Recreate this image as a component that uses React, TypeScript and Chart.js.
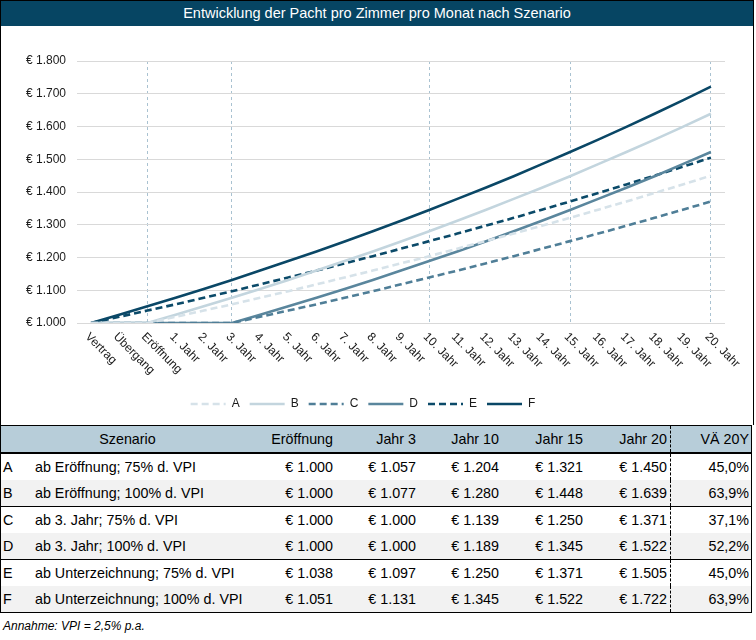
import React, { useEffect, useRef } from "react";
import { Chart, registerables } from "chart.js";

Chart.register(...registerables);

// ---------- chart data ----------
const categories = [
  "Vertrag", "Übergang", "Eröffnung",
  "1. Jahr", "2. Jahr", "3. Jahr", "4. Jahr", "5. Jahr", "6. Jahr", "7. Jahr",
  "8. Jahr", "9. Jahr", "10. Jahr", "11. Jahr", "12. Jahr", "13. Jahr", "14. Jahr",
  "15. Jahr", "16. Jahr", "17. Jahr", "18. Jahr", "19. Jahr", "20. Jahr",
];
const markedCategories = ["Eröffnung", "3. Jahr", "10. Jahr", "15. Jahr", "20. Jahr"];

const seriesLabels = ["A", "B", "C", "D", "E", "F"];
const seriesA = [1000, 1000, 1000, 1019, 1038, 1057, 1077, 1097, 1118, 1139, 1160, 1182, 1204, 1227, 1250, 1273, 1297, 1321, 1346, 1371, 1397, 1423, 1450];
const seriesB = [1000, 1000, 1000, 1025, 1051, 1077, 1104, 1131, 1160, 1189, 1218, 1249, 1280, 1312, 1345, 1379, 1413, 1448, 1485, 1522, 1560, 1599, 1639];
const seriesC = [1000, 1000, 1000, 1000, 1000, 1000, 1019, 1038, 1057, 1077, 1097, 1118, 1139, 1160, 1182, 1204, 1227, 1250, 1273, 1297, 1321, 1346, 1371];
const seriesD = [1000, 1000, 1000, 1000, 1000, 1000, 1025, 1051, 1077, 1104, 1131, 1160, 1189, 1218, 1249, 1280, 1312, 1345, 1379, 1413, 1448, 1485, 1522];
const seriesE = [1000, 1019, 1038, 1057, 1077, 1097, 1118, 1139, 1160, 1182, 1204, 1227, 1250, 1273, 1297, 1321, 1346, 1371, 1397, 1423, 1450, 1477, 1505];
const seriesF = [1000, 1025, 1051, 1077, 1104, 1131, 1160, 1189, 1218, 1249, 1280, 1312, 1345, 1379, 1413, 1448, 1485, 1522, 1560, 1599, 1639, 1680, 1722];

const yMin = 1000;
const yMax = 1800;
const yStep = 100;

// ---------- table data ----------
const scenarioNames = [
  "ab Eröffnung; 75% d. VPI",
  "ab Eröffnung; 100% d. VPI",
  "ab 3. Jahr; 75% d. VPI",
  "ab 3. Jahr; 100% d. VPI",
  "ab Unterzeichnung; 75% d. VPI",
  "ab Unterzeichnung; 100% d. VPI",
];
const tableColumns = ["Eröffnung", "Jahr 3", "Jahr 10", "Jahr 15", "Jahr 20"];
const tableA = [1000, 1057, 1204, 1321, 1450];
const tableB = [1000, 1077, 1280, 1448, 1639];
const tableC = [1000, 1000, 1139, 1250, 1371];
const tableD = [1000, 1000, 1189, 1345, 1522];
const tableE = [1038, 1097, 1250, 1371, 1505];
const tableF = [1051, 1131, 1345, 1522, 1722];
const change20Y = [45.0, 63.9, 37.1, 52.2, 45.0, 63.9];

const FONT = '"Liberation Sans", Arial, sans-serif';

function euro(v: number): string {
  const s = Math.round(v).toString();
  return "€ " + s.replace(/\B(?=(\d{3})+(?!\d))/g, ".");
}
function pct(v: number): string {
  return v.toFixed(1).replace(".", ",") + "%";
}

const rotatedLabels = {
  id: "rotatedLabels",
  afterDraw(chart: any) {
    const { ctx, chartArea } = chart;
    const x = chart.scales.x;
    ctx.save();
    ctx.font = `12px ${FONT}`;
    ctx.fillStyle = "#1a1a1a";
    ctx.textAlign = "left";
    ctx.textBaseline = "middle";
    categories.forEach((label, i) => {
      const px = x.getPixelForValue(i);
      ctx.save();
      ctx.translate(px - 4, chartArea.bottom + 12);
      ctx.rotate(Math.PI / 4);
      ctx.fillText(label, 0, 0);
      ctx.restore();
    });
    ctx.restore();
  },
};

function LineChart() {
  const ref = useRef<HTMLCanvasElement | null>(null);
  useEffect(() => {
    if (!ref.current) return;
    const mk = (label: string, data: number[], color: string, dash: number[]) => ({
      label,
      data,
      borderColor: color,
      backgroundColor: color,
      borderWidth: 2.6,
      borderDash: dash,
      pointRadius: 0,
      tension: 0,
      fill: false,
    });
    const chart = new Chart(ref.current, {
      type: "line",
      data: {
        labels: categories,
        datasets: [
          mk(seriesLabels[0], seriesA, "#d6e2e9", [7, 4]),
          mk(seriesLabels[1], seriesB, "#c3d5de", []),
          mk(seriesLabels[2], seriesC, "#4f7e97", [7, 4]),
          mk(seriesLabels[3], seriesD, "#5a869d", []),
          mk(seriesLabels[4], seriesE, "#0b4a69", [7, 4]),
          mk(seriesLabels[5], seriesF, "#0a4766", []),
        ],
      },
      options: {
        animation: false,
        responsive: false,
        maintainAspectRatio: false,
        devicePixelRatio: 1,
        layout: { padding: { top: 35, right: 28, bottom: 5, left: 0 } },
        plugins: {
          title: { display: false },
          tooltip: { enabled: false },
          legend: {
            display: true,
            position: "bottom",
            labels: {
              usePointStyle: true,
              pointStyle: "line",
              pointStyleWidth: 35,
              boxWidth: 35,
              boxHeight: 12,
              padding: 10,
              color: "#1a1a1a",
              font: { family: FONT, size: 12 },
              generateLabels: (c: any) => {
                const items = (Chart.defaults.plugins.legend.labels as any).generateLabels(c);
                items.forEach((it: any) => {
                  const ds: any = c.data.datasets[it.datasetIndex];
                  it.lineDash = ds.borderDash;
                  it.strokeStyle = ds.borderColor;
                  it.fillStyle = ds.borderColor;
                  it.lineWidth = ds.borderWidth;
                  it.pointStyle = "line";
                });
                return items;
              },
            },
          },
        },
        scales: {
          x: {
            type: "category",
            offset: true,
            afterFit: (s: any) => {
              s.height = 65;
            },
            ticks: { display: false },
            border: { display: false, dash: [3, 3] },
            grid: {
              drawTicks: false,
              color: (c: any) =>
                c.tick && markedCategories.includes(categories[c.index]) ? "#a9c2d1" : "rgba(0,0,0,0)",
              lineWidth: 1,
            },
          },
          y: {
            min: yMin,
            max: yMax,
            afterFit: (s: any) => {
              s.width = 76;
            },
            ticks: {
              stepSize: yStep,
              padding: 11,
              color: "#1a1a1a",
              font: { family: FONT, size: 12 },
              callback: (v: any) => euro(Number(v)),
            },
            border: { display: false },
            grid: { color: "#d9d9d9", drawTicks: false, lineWidth: 1 },
          },
        },
      } as any,
      plugins: [rotatedLabels],
    });
    return () => chart.destroy();
  }, []);
  return <canvas ref={ref} width={752} height={399} style={{ display: "block", width: 752, height: 399 }} />;
}

const tableRows = [tableA, tableB, tableC, tableD, tableE, tableF];
const colWidths = [31, 222, 83, 83, 83, 84, 84, 80];

export default function App() {
  const cell = (w: number, extra: React.CSSProperties = {}): React.CSSProperties => ({
    width: w,
    boxSizing: "border-box",
    flex: "none",
    whiteSpace: "nowrap",
    overflow: "hidden",
    ...extra,
  });
  const dotted = "1px dashed #000";
  const rowHeights = [26, 26, 26, 26, 26, 26];
  return (
    <div style={{ position: "absolute", left: 0, top: 0, width: 756, fontFamily: FONT, color: "#000" }}>
      <div style={{ width: 754, boxSizing: "border-box", borderTop: "1px solid #000", borderLeft: "1px solid #000", borderRight: "1px solid #000" }}>
        <div style={{ height: 25, background: "#064563", color: "#fff", fontSize: 14.5, lineHeight: "25px", textAlign: "center" }}>
          Entwicklung der Pacht pro Zimmer pro Monat nach Szenario
        </div>
        <LineChart />
      </div>
      <div style={{ width: 752, boxSizing: "border-box", border: "1px solid #000", fontSize: 14.3 }}>
        <div style={{ display: "flex", height: 28, boxSizing: "border-box", background: "#b7cdd9", borderBottom: "2px solid #000", lineHeight: "26px" }}>
          <div style={cell(colWidths[0] + colWidths[1], { textAlign: "center" })}>Szenario</div>
          {tableColumns.map((c, i) => (
            <div key={c} style={cell(colWidths[i + 2], { textAlign: "right", paddingRight: i === 4 ? 3 : 4, borderRight: i === 4 ? dotted : undefined })}>{c}</div>
          ))}
          <div style={cell(colWidths[7], { textAlign: "right", paddingRight: 2 })}>VÄ 20Y</div>
        </div>
        {tableRows.map((vals, r) => {
          const sep = r === 1 || r === 3;
          const h = rowHeights[r] + (sep ? 1 : 0);
          return (
            <div key={r} style={{ display: "flex", height: h, boxSizing: "border-box", background: r % 2 === 1 ? "#f2f2f2" : "#fff", borderBottom: sep ? "1px solid #000" : undefined, lineHeight: `${rowHeights[r]}px` }}>
              <div style={cell(colWidths[0], { paddingLeft: 2 })}>{seriesLabels[r]}</div>
              <div style={cell(colWidths[1], { paddingLeft: 3 })}>{scenarioNames[r]}</div>
              {vals.map((v, i) => (
                <div key={i} style={cell(colWidths[i + 2], { textAlign: "right", paddingRight: i === 4 ? 3 : 4, borderRight: i === 4 ? dotted : undefined })}>{euro(v)}</div>
              ))}
              <div style={cell(colWidths[7], { textAlign: "right", paddingRight: 2 })}>{pct(change20Y[r])}</div>
            </div>
          );
        })}
      </div>
      <div style={{ fontSize: 12, fontStyle: "italic", paddingLeft: 3, marginTop: 6, lineHeight: "15px" }}>Annahme: VPI = 2,5% p.a.</div>
    </div>
  );
}
